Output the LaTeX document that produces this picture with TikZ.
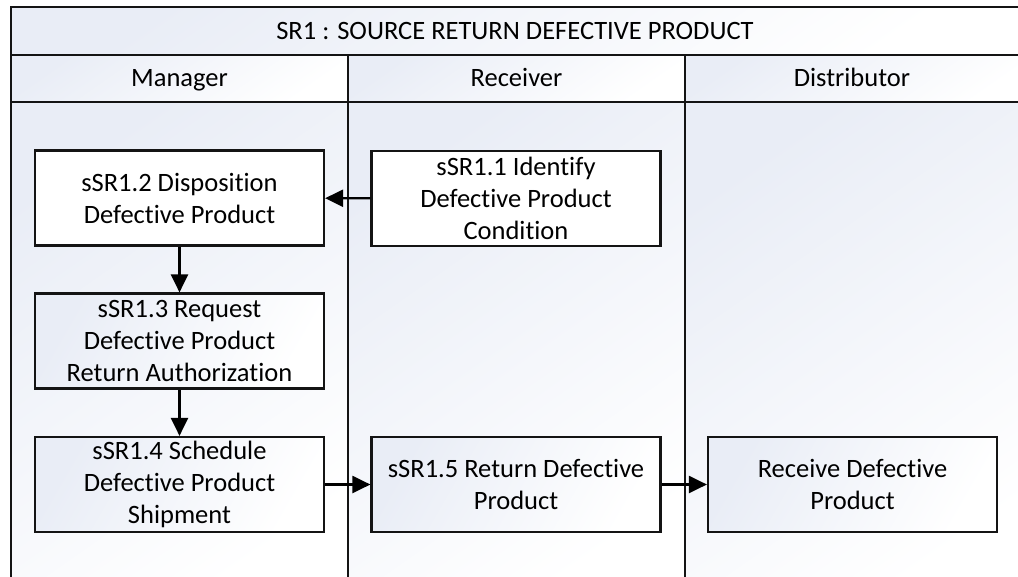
\documentclass[tikz,border=0pt]{standalone}
\usepackage{fontspec}
\setmainfont{Carlito}[Ligatures=NoCommon]
\usetikzlibrary{arrows.meta}
\definecolor{shadeblue}{RGB}{233,237,246}
\definecolor{edge}{RGB}{20,20,20}
\tikzset{
  cell/.style={draw=edge, line width=2.2pt, top color=shadeblue, bottom color=white, shading angle=35},
  hdr/.style={font=\fontsize{26.5}{32}\selectfont, text=black, inner sep=0pt, anchor=base},
  proc/.style={draw=edge, line width=2.2pt, minimum width=289pt, minimum height=95pt,
    align=center, font=\fontsize{26.5}{32}\selectfont, inner sep=0pt},
  plainbox/.style={proc, fill=white},
  shadebox/.style={proc, top color=shadeblue, bottom color=white, shading angle=60},
  flow/.style={line width=2.2pt, draw=black, -{Triangle[length=18pt,width=17pt]}},
}
\begin{document}
\begin{tikzpicture}[x=1pt,y=-1pt]
\useasboundingbox (0,0) rectangle (1018,576);
\clip (0,0) rectangle (1018,576);
% pool frame
\path[cell] (11,7) rectangle (1030,55);
\path[cell] (11,55) rectangle (348,102);
\path[cell] (348,55) rectangle (685,102);
\path[cell] (685,55) rectangle (1030,102);
\path[cell] (11,102) rectangle (348,600);
\path[cell] (348,102) rectangle (685,600);
\path[cell] (685,102) rectangle (1030,600);
\node[hdr] (title) at (515,39.5) {SR1 : SOURCE RETURN DEFECTIVE PRODUCT};
\node[hdr] (mgr) at (179.5,86.5) {Manager};
\node[hdr] (rcv) at (516.5,86.5) {Receiver};
\node[hdr] (dst) at (852,86.5) {Distributor};
% process boxes
\node[plainbox] (s12) at (179.5,198) {sSR1.2 Disposition\\Defective Product};
\node[shadebox] (s13) at (179.5,341) {sSR1.3 Request\\Defective Product\\Return Authorization};
\node[shadebox] (s14) at (179.5,484.5) {sSR1.4 Schedule\\Defective Product\\Shipment};
\node[plainbox] (s11) at (516,198.5) {sSR1.1 Identify\\Defective Product\\Condition};
\node[shadebox] (s15) at (516,484.5) {sSR1.5 Return Defective\\Product};
\node[shadebox] (recv) at (852.5,484.5) {Receive Defective\\Product};
% connectors
\draw[flow] (s11) -- (s12);
\draw[flow] (s12) -- (s13);
\draw[flow] (s13) -- (s14);
\draw[flow] (s14) -- (s15);
\draw[flow] (s15) -- (recv);
\end{tikzpicture}
\end{document}
